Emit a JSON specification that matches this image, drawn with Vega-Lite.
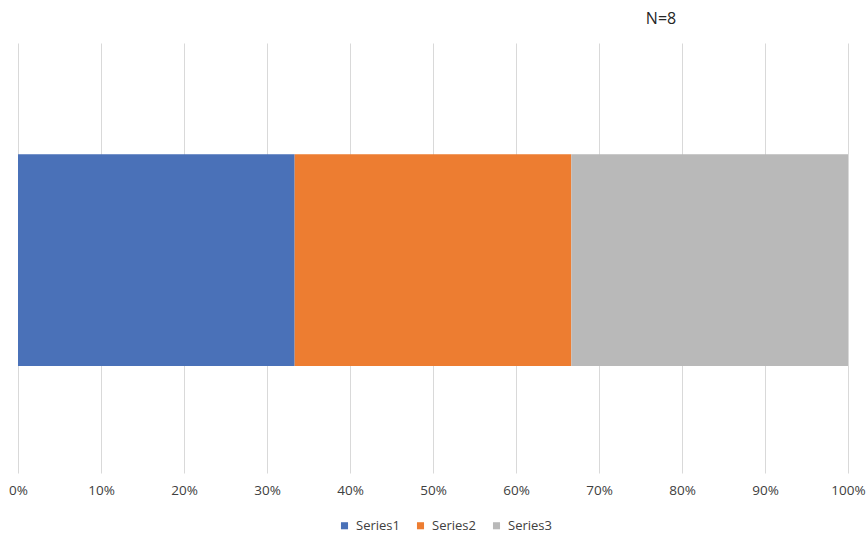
{
  "$schema": "https://vega.github.io/schema/vega-lite/v6.json",
  "width": 830,
  "height": 430,
  "autosize": {"type": "none"},
  "padding": {"left": 18, "top": 43, "right": 18, "bottom": 60},
  "background": "white",
  "config": {"view": {"stroke": null}},
  "title": {
    "text": "N=8",
    "anchor": "middle",
    "dx": 228,
    "offset": 16,
    "font": "Open Sans",
    "fontSize": 16,
    "fontWeight": "normal",
    "color": "#262626"
  },
  "data": {
    "values": [
      {"category": "A", "series": "Series1", "value": 1},
      {"category": "A", "series": "Series2", "value": 1},
      {"category": "A", "series": "Series3", "value": 1}
    ]
  },
  "mark": {"type": "bar"},
  "encoding": {
    "y": {
      "field": "category",
      "type": "nominal",
      "axis": null,
      "scale": {"paddingInner": 0.34, "paddingOuter": 0.34, "align": 0.51}
    },
    "x": {
      "field": "value",
      "type": "quantitative",
      "stack": "normalize",
      "scale": {"domain": [0, 1], "nice": false},
      "axis": {
        "format": ".0%",
        "values": [0, 0.1, 0.2, 0.3, 0.4, 0.5, 0.6, 0.7, 0.8, 0.9, 1],
        "title": null,
        "domain": false,
        "ticks": false,
        "grid": true,
        "gridColor": "#d9d9d9",
        "gridWidth": 1,
        "labelFont": "Open Sans",
        "labelFontSize": 13.5,
        "labelColor": "#404040",
        "labelPadding": 10,
        "labelFlush": false
      }
    },
    "color": {
      "field": "series",
      "type": "nominal",
      "scale": {
        "domain": ["Series1", "Series2", "Series3"],
        "range": ["#4A71B8", "#ED7D31", "#B9B9B9"]
      },
      "legend": {
        "title": null,
        "orient": "none",
        "direction": "horizontal",
        "legendX": 320,
        "legendY": 476,
        "symbolType": "square",
        "symbolSize": 50,
        "symbolStrokeWidth": 0,
        "labelFont": "Open Sans",
        "labelFontSize": 13,
        "labelColor": "#404040",
        "columnPadding": 14,
        "labelOffset": 5
      }
    },
    "order": {"field": "series"}
  }
}
